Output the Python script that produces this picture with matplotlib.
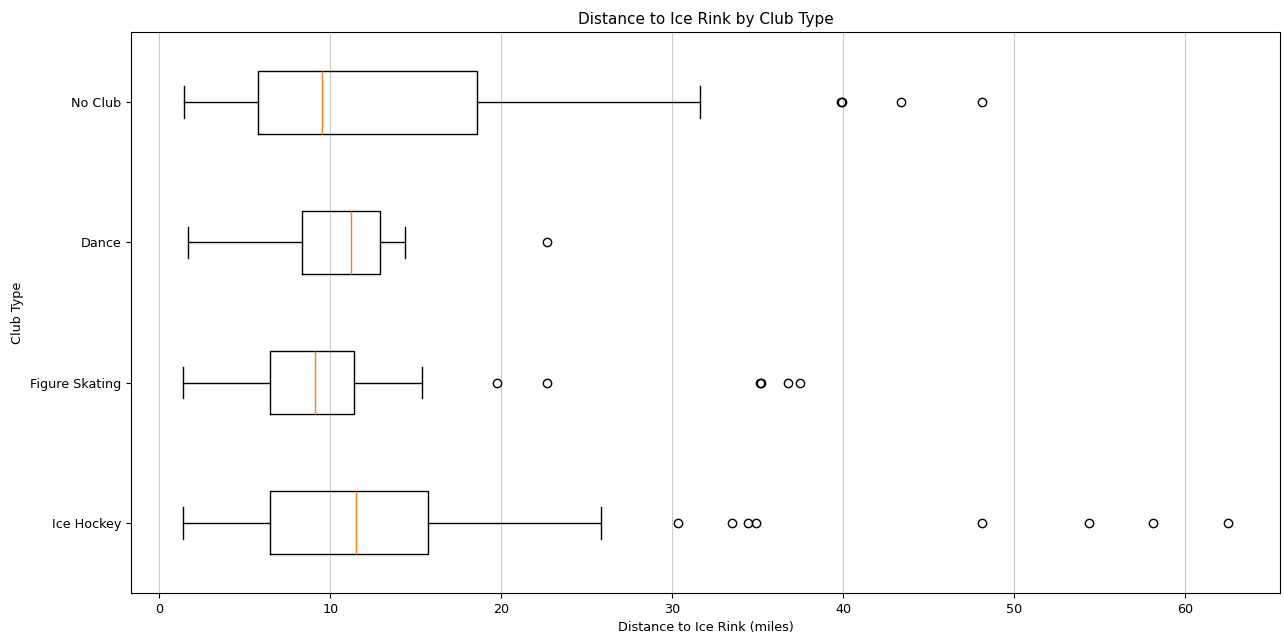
import matplotlib
matplotlib.use('Agg')
import matplotlib.pyplot as plt

# club types, bottom to top
clubs = ['Ice Hockey', 'Figure Skating', 'Dance', 'No Club']

# five-number summaries (miles)
whislo = [1.4, 1.4, 1.7, 1.45]
q1 = [6.5, 6.5, 8.37, 5.8]
med = [11.5, 9.1, 11.2, 9.5]
q3 = [15.7, 11.4, 12.9, 18.6]
whishi = [25.85, 15.35, 14.4, 31.6]

# outliers per club
fliers = [
    [30.35, 33.5, 34.45, 34.9, 48.1, 54.4, 58.1, 62.5],
    [19.75, 22.7, 35.15, 35.2, 36.8, 37.45],
    [22.7],
    [39.9, 39.95, 43.4, 48.1],
]

plt.rcParams['font.size'] = 9.2

stats = []
for i, c in enumerate(clubs):
    stats.append({'label': c, 'whislo': whislo[i], 'q1': q1[i], 'med': med[i],
                  'q3': q3[i], 'whishi': whishi[i], 'fliers': fliers[i]})

fig, ax = plt.subplots(figsize=(12.84, 6.34), dpi=100)
ax.bxp(stats, orientation='horizontal')
ax.set_title('Distance to Ice Rink by Club Type', fontsize=11)
ax.set_xlabel('Distance to Ice Rink (miles)')
ax.set_ylabel('Club Type')
ax.grid(axis='x', alpha=0.65)
ax.set_axisbelow(True)

fig.subplots_adjust(left=0.102, right=0.997, top=0.9495, bottom=0.0647)
fig.savefig('out.png', dpi=100)
